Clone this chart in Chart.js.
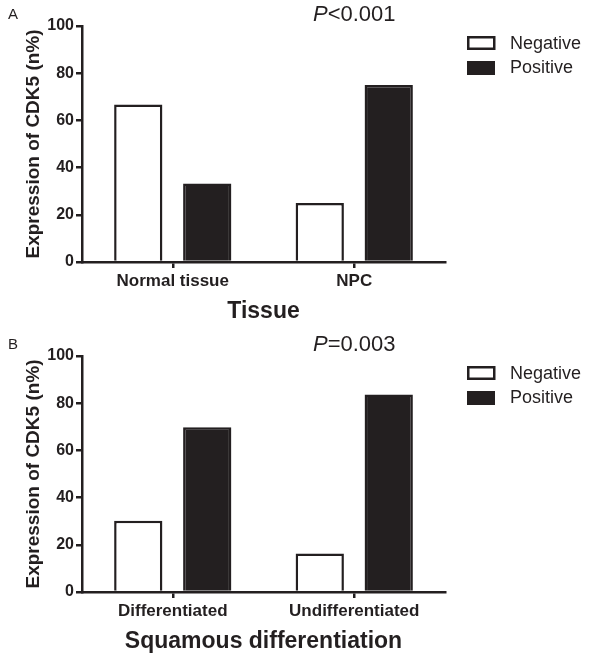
<!DOCTYPE html>
<html lang="en">

<head>
    <meta charset="UTF-8">
    <title>Expression of CDK5</title>
    <script src="https://cdn.jsdelivr.net/npm/chart.js"></script>
    <style>
        body { margin: 0; background: #fff; }
        .panel { width: 600px; height: 330px; position: relative; }
    </style>
</head>

<body>
    <div class="panel"><canvas id="chartA" width="600" height="330"></canvas></div>
    <div class="panel"><canvas id="chartB" width="600" height="330"></canvas></div>
    <script>
        // panel A - tissue
        const tissueLabels = ['Normal tissue', 'NPC'];
        const tissueNegative = [66.7, 25.0];
        const tissuePositive = [33.3, 75.0];

        // panel B - squamous differentiation
        const squamousLabels = ['Differentiated', 'Undifferentiated'];
        const squamousNegative = [30.2, 16.3];
        const squamousPositive = [69.8, 83.7];

        const seriesNames = ['Negative', 'Positive'];
        const yTicks = [0, 20, 40, 60, 80, 100];

        const ink = '#231f20';
        const family = '"Liberation Sans", Arial, sans-serif';

        // letter, p-value and legend drawn on top
        const extrasPlugin = {
            id: 'extras',
            afterDraw(chart, args, opts) {
                const ctx = chart.ctx;
                ctx.save();
                ctx.fillStyle = ink;
                ctx.textBaseline = 'alphabetic';

                ctx.font = '15px ' + family;
                ctx.fillText(opts.letter, 8, 19);

                ctx.font = 'italic 22px ' + family;
                ctx.fillText('P', 313, 21);
                const pw = ctx.measureText('P').width;
                ctx.font = '22px ' + family;
                ctx.fillText(opts.pText, 313 + pw, 21);

                // legend
                ctx.strokeStyle = ink;
                ctx.lineWidth = 2.5;
                ctx.strokeRect(468.25, 37.25, 26, 11.5);
                ctx.fillRect(467, 61, 28, 14);
                ctx.font = '18px ' + family;
                ctx.fillText(seriesNames[0], 510, 49);
                ctx.fillText(seriesNames[1], 510, 73);
                ctx.restore();
            }
        };

        function makeChart(id, labels, neg, pos, xTitle, letter, pText) {
            const ctx = document.getElementById(id).getContext('2d');
            return new Chart(ctx, {
                type: 'bar',
                data: {
                    labels: labels,
                    datasets: [{
                        label: seriesNames[0],
                        data: neg,
                        backgroundColor: '#ffffff',
                        borderColor: ink,
                        borderWidth: 2.5
                    }, {
                        label: seriesNames[1],
                        data: pos,
                        backgroundColor: ink,
                        borderColor: ink,
                        borderWidth: 2.5
                    }]
                },
                plugins: [extrasPlugin],
                options: {
                    responsive: false,
                    animation: false,
                    categoryPercentage: 0.76,
                    barPercentage: 0.7,
                    layout: { padding: { left: 0, top: 26, right: 155, bottom: 0 } },
                    plugins: {
                        legend: { display: false },
                        tooltip: { enabled: false },
                        extras: { letter: letter, pText: pText }
                    },
                    scales: {
                        x: {
                            afterFit(scale) { scale.height = 68; },
                            grid: {
                                offset: false,
                                drawOnChartArea: false,
                                tickLength: 6,
                                color: ink,
                                lineWidth: 2.5
                            },
                            border: { color: ink, width: 2.5 },
                            ticks: {
                                color: ink,
                                padding: 3,
                                font: { family: family, size: 17, weight: 'bold' }
                            },
                            title: {
                                display: true,
                                text: xTitle,
                                color: ink,
                                padding: { top: 0, bottom: 5 },
                                font: { family: family, size: 23, weight: 'bold' }
                            }
                        },
                        y: {
                            min: 0,
                            max: 100,
                            afterFit(scale) { scale.width = 82; },
                            afterBuildTicks(scale) {
                                scale.ticks = yTicks.map(v => ({ value: v }));
                            },
                            grid: {
                                drawOnChartArea: false,
                                tickLength: 6,
                                color: ink,
                                lineWidth: 2.5
                            },
                            border: { color: ink, width: 2.5 },
                            ticks: {
                                color: ink,
                                padding: 2,
                                font: { family: family, size: 16, weight: 'bold' }
                            },
                            title: {
                                display: true,
                                text: 'Expression of CDK5 (n%)',
                                color: ink,
                                padding: { top: 22, bottom: 0 },
                                font: { family: family, size: 19, weight: 'bold' }
                            }
                        }
                    }
                }
            });
        }

        makeChart('chartA', tissueLabels, tissueNegative, tissuePositive, 'Tissue', 'A', '<0.001');
        makeChart('chartB', squamousLabels, squamousNegative, squamousPositive, 'Squamous differentiation', 'B', '=0.003');
    </script>
</body>

</html>
